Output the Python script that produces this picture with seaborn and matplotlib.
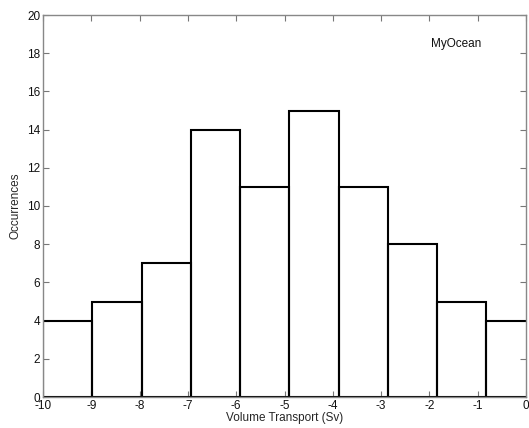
import matplotlib
matplotlib.use("Agg")
import matplotlib.pyplot as plt
import seaborn as sns
import numpy as np
import pandas as pd

bin_edges = [-10.0, -8.98, -7.96, -6.94, -5.92, -4.90, -3.88, -2.86, -1.84, -0.82, 0.20]
counts = [4, 5, 7, 14, 11, 15, 11, 8, 5, 4]
x_ticks = [-10, -9, -8, -7, -6, -5, -4, -3, -2, -1, 0]
y_ticks = [0, 2, 4, 6, 8, 10, 12, 14, 16, 18, 20]
label_text = "MyOcean"

centers = [(a + b) / 2 for a, b in zip(bin_edges[:-1], bin_edges[1:])]
df = pd.DataFrame({"transport": centers, "count": counts})

sns.set_style("ticks")
plt.rcParams['font.family'] = ['Liberation Sans', 'DejaVu Sans']

fig = plt.figure(figsize=(5.29, 4.28), dpi=100)
ax = fig.add_axes([43/529, 1-397/428, (526-43)/529, (397-15)/428])

sns.histplot(data=df, x="transport", weights="count", bins=bin_edges,
             fill=False, color="black", linewidth=1.5, ax=ax, element="bars")
for p in ax.patches:
    p.set_edgecolor("black")
    p.set_linewidth(1.5)

ax.set_xlim(-10, 0)
ax.set_ylim(0, 20)
ax.set_xticks(x_ticks)
ax.set_yticks(y_ticks)
ax.set_xticklabels([str(t) for t in x_ticks])
ax.set_yticklabels([str(t) for t in y_ticks])
ax.set_xlabel("Volume Transport (Sv)", fontsize=8.5, labelpad=0)
ax.set_ylabel("Occurrences", fontsize=8.5, labelpad=4)
ax.tick_params(direction="in", length=4, width=0.8, color="#777777",
               labelsize=8.5, top=True, right=True, pad=2, labelcolor="#111111")
for s in ax.spines.values():
    s.set_visible(True)
    s.set_color("#888888")
    s.set_linewidth(1.0)

ax.text(-1.45, 18.5, label_text, fontsize=8.5, ha="center", va="center", color="#111111")

fig.savefig("out.png", dpi=100)
